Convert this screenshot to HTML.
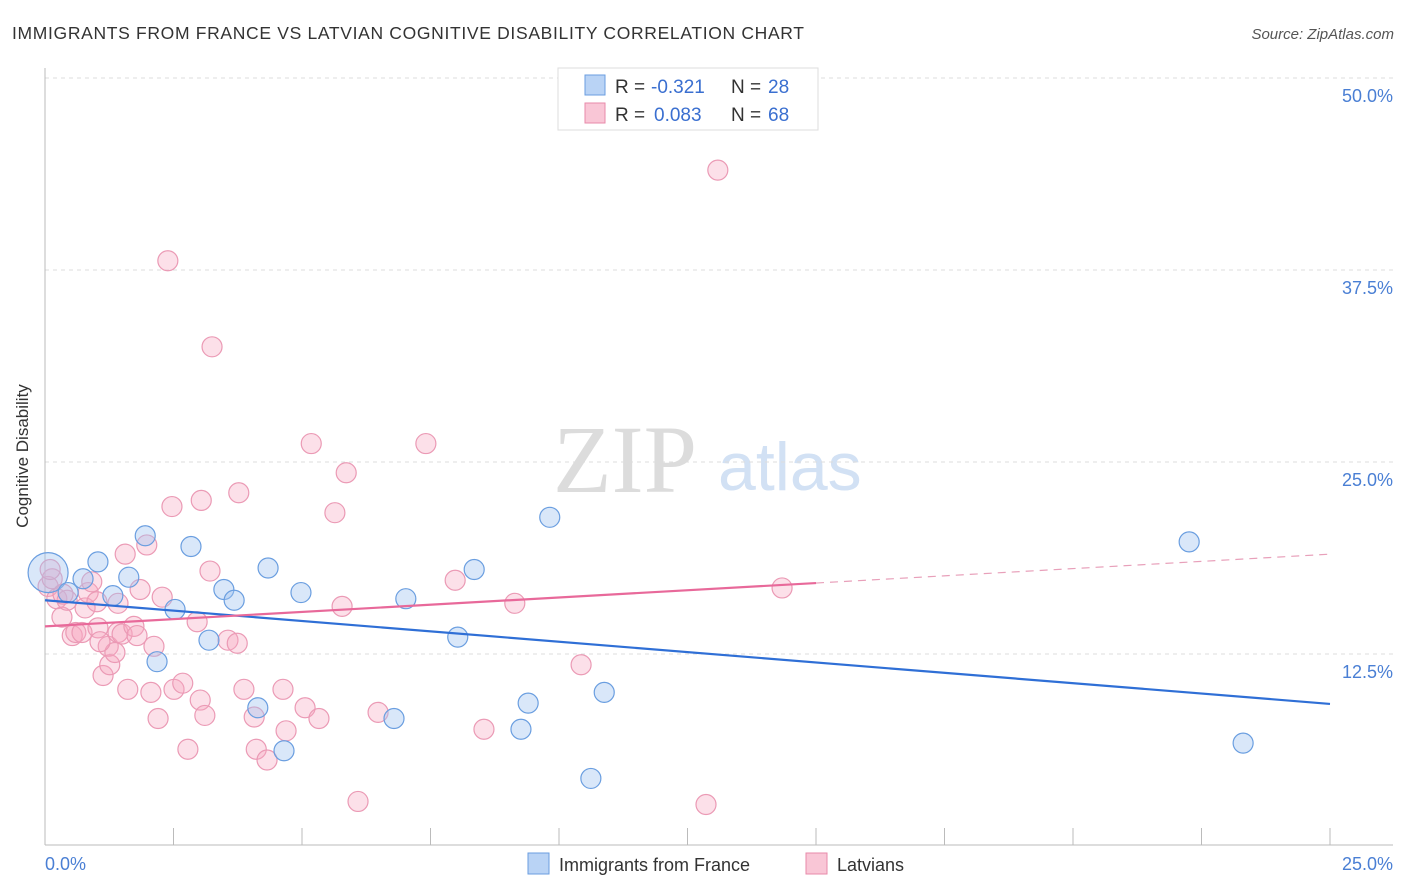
<!DOCTYPE html>
<html><head><meta charset="utf-8"><style>
body{margin:0;background:#fff;font-family:"Liberation Sans",sans-serif}
svg{display:block}
</style></head><body>
<svg id="chart" width="1406" height="892" xmlns="http://www.w3.org/2000/svg" font-family="Liberation Sans, sans-serif">
<text x="12" y="39" font-size="17.5" fill="#333" textLength="792">IMMIGRANTS FROM FRANCE VS LATVIAN COGNITIVE DISABILITY CORRELATION CHART</text>
<text x="1394" y="39" font-size="15" fill="#555" text-anchor="end" font-style="italic">Source: ZipAtlas.com</text>
<g>
<text x="553" y="492" font-size="96" font-family="Liberation Serif, serif" fill="#dcdcdc">ZIP</text>
<text x="718" y="490" font-size="68" fill="#d2e1f4">atlas</text>
</g>
<g id="grid"></g>
<g id="axes"></g>
<g id="pts"></g>
<g id="trends"></g>
<text x="28" y="456" font-size="17" fill="#333" text-anchor="middle" transform="rotate(-90 28 456)">Cognitive Disability</text>
<g>
<rect x="558" y="68" width="260" height="62" fill="#fff" stroke="#ddd"/>
<rect x="585" y="75" width="20" height="20" fill="#b9d3f5" stroke="#6a9ee0"/>
<rect x="585" y="103" width="20" height="20" fill="#f9c6d6" stroke="#e88aaa"/>
<text x="615" y="93" font-size="19" fill="#333">R =</text>
<text x="651" y="93" font-size="19" fill="#3a6fd0">-0.321</text>
<text x="731" y="93" font-size="19" fill="#333">N =</text>
<text x="768" y="93" font-size="19" fill="#3a6fd0">28</text>
<text x="615" y="121" font-size="19" fill="#333">R =</text>
<text x="654" y="121" font-size="19" fill="#3a6fd0">0.083</text>
<text x="731" y="121" font-size="19" fill="#333">N =</text>
<text x="768" y="121" font-size="19" fill="#3a6fd0">68</text>
</g>
<g>
<rect x="528" y="853" width="21" height="21" fill="#b9d3f5" stroke="#6a9ee0"/>
<text x="559" y="871" font-size="18" fill="#333">Immigrants from France</text>
<rect x="806" y="853" width="21" height="21" fill="#f9c6d6" stroke="#e88aaa"/>
<text x="837" y="871" font-size="18" fill="#333">Latvians</text>
</g>
</svg>
<script>
const blueX=[0.06,0.45,0.74,1.03,1.32,1.63,1.95,2.18,2.53,2.84,3.19,3.48,3.68,4.14,4.34,4.65,4.98,6.79,7.02,8.03,8.35,9.26,9.40,9.82,10.62,10.88,22.26,23.31];
const blueY=[17.8,16.5,17.4,18.5,16.3,17.5,20.2,12.0,15.4,19.5,13.4,16.7,16.0,9.0,18.1,6.2,16.5,8.3,16.1,13.6,18.0,7.6,9.3,21.4,4.4,10.0,19.8,6.7];
const pinkX=[0.06,0.14,0.23,0.33,0.43,0.53,0.60,0.72,0.78,0.84,0.91,1.01,1.03,1.13,1.23,1.26,1.36,1.42,1.50,1.56,1.61,1.73,1.85,1.98,2.06,2.12,2.20,2.28,2.39,2.47,2.51,2.68,2.78,2.96,3.02,3.04,3.11,3.21,3.25,3.56,3.74,3.77,3.87,4.07,4.11,4.32,4.63,4.69,5.06,5.18,5.33,5.64,5.78,5.86,6.09,6.48,7.41,7.98,8.54,9.14,10.43,12.86,13.09,14.34,0.10,1.07,1.79,0.35,1.42];
const pinkY=[16.9,17.4,16.1,14.9,16.0,13.7,13.9,13.9,15.5,16.5,17.2,15.9,14.2,11.1,13.0,11.8,12.6,13.9,13.8,19.0,10.2,14.3,16.7,19.6,10.0,13.0,8.3,16.2,38.1,22.1,10.2,10.6,6.3,14.6,9.5,22.5,8.5,17.9,32.5,13.4,13.2,23.0,10.2,8.4,6.3,5.6,10.2,7.5,9.0,26.2,8.3,21.7,15.6,24.3,2.9,8.7,26.2,17.3,7.6,15.8,11.8,2.7,44.0,16.8,18.0,13.3,13.7,16.4,15.8];
const yTicks=[12.5,25.0,37.5,50.0];
const yTickLabels=["12.5%","25.0%","37.5%","50.0%"];
const blueTrend=[16.0,9.25];
const pinkTrend=[14.3,19.0];
const pinkSolidEnd=15.0;
const NS="http://www.w3.org/2000/svg";
const sx=v=>45+v/25*1285, sy=v=>846-v/12.5*192;
function mk(t,a,p){const e=document.createElementNS(NS,t);for(const k in a)e.setAttribute(k,a[k]);p.appendChild(e);return e;}
const grid=document.getElementById('grid'),axes=document.getElementById('axes');
yTicks.forEach((t,i)=>{
 const l=mk('line',{x1:45,x2:1393,y1:sy(t),y2:sy(t),stroke:'#ddd','stroke-dasharray':'4,4'},grid);
 
 
 const tx=mk('text',{x:1393,y:sy(t)+24,'font-size':18,fill:'#4a7fd4','text-anchor':'end'},axes);
 tx.textContent=yTickLabels[i];
 
 
});
mk('line',{x1:45,x2:45,y1:68,y2:845,stroke:'#bbb'},axes);
mk('line',{x1:45,x2:1393,y1:845,y2:845,stroke:'#bbb'},axes);
for(let i=1;i<=10;i++){const x=45+i*128.5;mk('line',{x1:x,x2:x,y1:828,y2:845,stroke:'#bbb'},axes);}
const x0=mk('text',{x:45,y:870,'font-size':18,fill:'#4a7fd4'},axes);x0.textContent='0.0%';


const x1=mk('text',{x:1393,y:870,'font-size':18,fill:'#4a7fd4','text-anchor':'end'},axes);x1.textContent='25.0%';


const pts=document.getElementById('pts');
pinkX.forEach((x,i)=>{const c=mk('circle',{cx:sx(x),cy:sy(pinkY[i]),r:10,fill:'rgba(245,165,192,0.35)',stroke:'#eb9ab5','stroke-width':1.2},pts);
 
 });
blueX.forEach((x,i)=>{const c=mk('circle',{cx:sx(x),cy:sy(blueY[i]),r:i===0?20:10,fill:'rgba(160,196,240,0.4)',stroke:'#6a9ee0','stroke-width':1.2},pts);
 
 });
const tr=document.getElementById('trends');
const b=mk('line',{x1:sx(0),y1:sy(blueTrend[0]),x2:sx(25),y2:sy(blueTrend[1]),stroke:'#2f6fd6','stroke-width':2.2},tr);


const pyAt=x=>pinkTrend[0]+(pinkTrend[1]-pinkTrend[0])*x/25;
const p=mk('line',{x1:sx(0),y1:sy(pyAt(0)),x2:sx(pinkSolidEnd),y2:sy(pyAt(pinkSolidEnd)),stroke:'#e8699a','stroke-width':2.2},tr);


const pd=mk('line',{x1:sx(pinkSolidEnd),y1:sy(pyAt(pinkSolidEnd)),x2:sx(25),y2:sy(pyAt(25)),stroke:'#e8a0ba','stroke-width':1.2,'stroke-dasharray':'8,6'},tr);


</script>
</body></html>
